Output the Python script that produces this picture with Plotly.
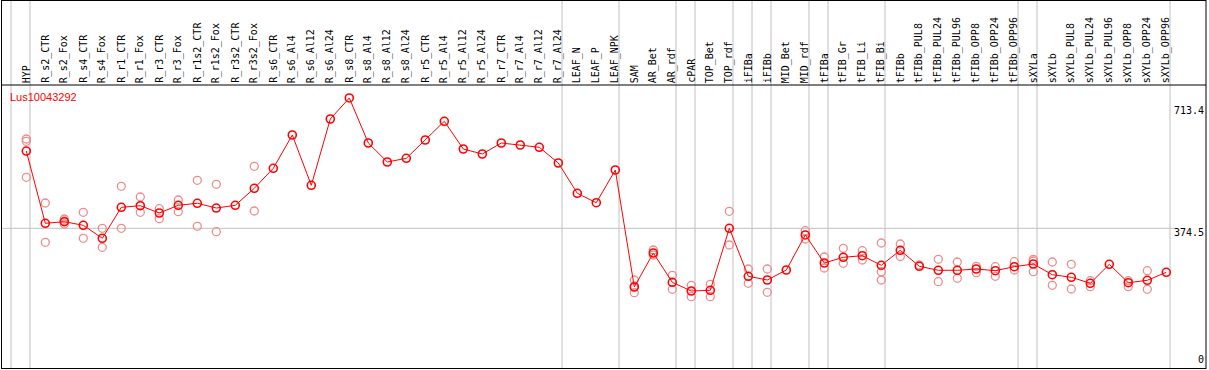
import plotly.graph_objects as go

categories = [
    "HYP", "R_s2_CTR", "R_s2_Fox", "R_s4_CTR", "R_s4_Fox", "R_r1_CTR", "R_r1_Fox",
    "R_r3_CTR", "R_r3_Fox", "R_r1s2_CTR", "R_r1s2_Fox", "R_r3s2_CTR", "R_r3s2_Fox",
    "R_s6_CTR", "R_s6_Al4", "R_s6_Al12", "R_s6_Al24", "R_s8_CTR", "R_s8_Al4",
    "R_s8_Al12", "R_s8_Al24", "R_r5_CTR", "R_r5_Al4", "R_r5_Al12", "R_r5_Al24",
    "R_r7_CTR", "R_r7_Al4", "R_r7_Al12", "R_r7_Al24", "LEAF_N", "LEAF_P", "LEAF_NPK",
    "SAM", "AR_Bet", "AR_rdf", "cPAR", "TOP_Bet", "TOP_rdf", "iFIBa", "iFIBb",
    "MID_Bet", "MID_rdf", "tFIBa", "tFIB_Gr", "tFIB_Li", "tFIB_Bi", "tFIBb",
    "tFIBb_PUL8", "tFIBb_PUL24", "tFIBb_PUL96", "tFIBb_OPP8", "tFIBb_OPP24",
    "tFIBb_OPP96", "sXYLa", "sXYLb", "sXYLb_PUL8", "sXYLb_PUL24", "sXYLb_PUL96",
    "sXYLb_OPP8", "sXYLb_OPP24", "sXYLb_OPP96",
]

mean_vals = [
    588.6, 388.4, 392.8, 382.8, 346.8, 432.7, 437.1, 416.9, 438.2, 443.8, 430.7,
    438.2, 485.3, 540.7, 633.0, 493.6, 677.3, 735.5, 610.8, 558.2, 568.4, 619.1,
    670.9, 594.2, 580.3, 610.8, 605.3, 598.9, 555.4, 471.5, 445.4, 536.0,
    211.9, 306.1, 224.9, 200.8, 202.8, 374.5, 241.6, 231.3, 259.0, 356.0,
    278.4, 294.2, 298.6, 272.0, 313.6, 269.3, 258.2, 258.2, 261.8, 257.1, 268.1,
    275.6, 246.0, 238.8, 222.2, 274.8, 223.8, 230.5, 252.6,
]

N = None
rep1 = [
    621.9, 444.6, 400.3, 418.8, 374.5, 490.9, 461.2, 428.8, 452.9, 507.5, 496.4,
    N, 546.3, N, N, N, N, N, N, N, N, N, N, N, N, N, N, N, N, N, N, N,
    231.3, 314.4, 244.3, 216.6, 219.4, 421.6, 261.8, 261.8, N, 367.9,
    295.0, 319.1, 312.5, 333.8, 331.0, 272.9, 288.6, 281.2, 269.3, 268.1, 282.0,
    288.6, 281.2, 274.8, 229.4, N, 229.4, 257.1, N,
]
rep2 = [
    615.5, 335.7, 394.7, 346.8, 321.9, 374.5, 418.8, 401.1, 420.5, 380.1, 365.1,
    N, 422.4, N, N, N, N, N, N, N, N, N, N, N, N, N, N, N, N, N, N, N,
    214.7, 300.6, 205.5, 185.0, 185.0, 328.3, 222.2, 197.2, N, 344.9,
    264.5, 277.6, 286.7, 254.3, 296.4, N, 226.6, 236.0, 251.5, 241.6, 259.0,
    284.0, 216.6, 206.4, 212.7, N, 212.7, 205.5, N,
]
rep3 = [
    515.8, N, 386.4, N, N, N, N, N, N, N, N,
    N, N, N, N, N, N, N, N, N, N, N, N, N, N, N, N, N, N, N, N, N,
    196.1, N, N, N, N, N, N, N, N, N,
    N, N, N, 231.3, N, N, N, N, N, N, N,
    254.3, N, N, N, N, N, N, N,
]

gene_label = "Lus10043292"
axis_ticks = [713.4, 374.5, 0]
grid_value = 374.5
separators_after = [-1, 0, 28, 31, 34, 35, 37, 38, 39, 41, 42, 45, 52, 53, 60]

W, H = 1209, 370
X0, DX = 26.3, 19.0          # pixel of first category, pixel step
Y0, KY = 363.5, 0.361        # pixel of value 0, pixels per unit


def px(p):
    return p / W


def py(p):
    return 1 - p / H


xs = list(range(len(categories)))
fig = go.Figure()

rep_color = "rgba(238,140,140,1)"
for reps in (rep1, rep2, rep3):
    fig.add_trace(go.Scatter(
        x=xs, y=reps, mode="markers",
        marker=dict(symbol="circle-open", size=8, color=rep_color,
                    line=dict(width=1.3, color=rep_color)),
        hoverinfo="skip", showlegend=False, cliponaxis=False,
    ))

fig.add_trace(go.Scatter(
    x=xs, y=mean_vals, mode="lines+markers",
    line=dict(color="#ff0000", width=1),
    marker=dict(symbol="circle-open", size=8, color="#ff0000",
                line=dict(width=1.6, color="#ff0000")),
    showlegend=False, cliponaxis=False,
))

shapes = []
gray = "#c0c0c0"
for i in separators_after:
    xp = X0 + DX * i + 3.7
    shapes.append(dict(type="line", xref="paper", yref="paper",
                       x0=px(xp), x1=px(xp), y0=py(0), y1=py(369),
                       line=dict(color=gray, width=1), layer="below"))
gy = Y0 - KY * grid_value
shapes.append(dict(type="line", xref="paper", yref="paper",
                   x0=px(2), x1=px(1176), y0=py(gy), y1=py(gy),
                   line=dict(color=gray, width=1), layer="below"))
# frame
for (a, b, c, d) in [(1, 0.5, 1206, 0.5), (1, 85, 1206, 85), (1, 368.5, 1206, 368.5),
                     (1.5, 0, 1.5, 369), (1206, 0, 1206, 369)]:
    shapes.append(dict(type="line", xref="paper", yref="paper",
                       x0=px(a), y0=py(b), x1=px(c), y1=py(d),
                       line=dict(color="black", width=1)))

annotations = []
for i, c in enumerate(categories):
    annotations.append(dict(
        x=i, xref="x", y=py(84), yref="paper", text=c, textangle=-90,
        xanchor="center", yanchor="bottom", showarrow=False, borderpad=0,
        font=dict(family="DejaVu Sans Mono", size=10, color="black"),
    ))
annotations.append(dict(
    x=px(9), xref="paper", y=py(97.5), yref="paper", text=gene_label,
    xanchor="left", yanchor="middle", showarrow=False, borderpad=0,
    font=dict(family="Liberation Sans", size=11, color="#ff0000"),
))
for v in axis_ticks:
    ya = "top" if v > 0 else "bottom"
    annotations.append(dict(
        x=px(1205), xref="paper", y=v, yref="y", text=str(v) if v else "0",
        xanchor="right", yanchor=ya, showarrow=False, borderpad=0,
        yshift=(2 if v > 0 else -2),
        font=dict(family="DejaVu Sans Mono", size=10, color="black"),
    ))

fig.update_layout(
    width=W, height=H,
    margin=dict(l=0, r=0, t=0, b=0),
    paper_bgcolor="white", plot_bgcolor="white",
    xaxis=dict(range=[-X0 / DX, (W - X0) / DX], visible=False, fixedrange=True),
    yaxis=dict(range=[-(H - Y0) / KY, Y0 / KY], visible=False, fixedrange=True),
    shapes=shapes, annotations=annotations,
    showlegend=False,
)

fig.write_html(
    "out.html",
    config={"displayModeBar": False},
    post_script="document.body.style.margin='0';document.body.style.overflow='hidden';",
)
